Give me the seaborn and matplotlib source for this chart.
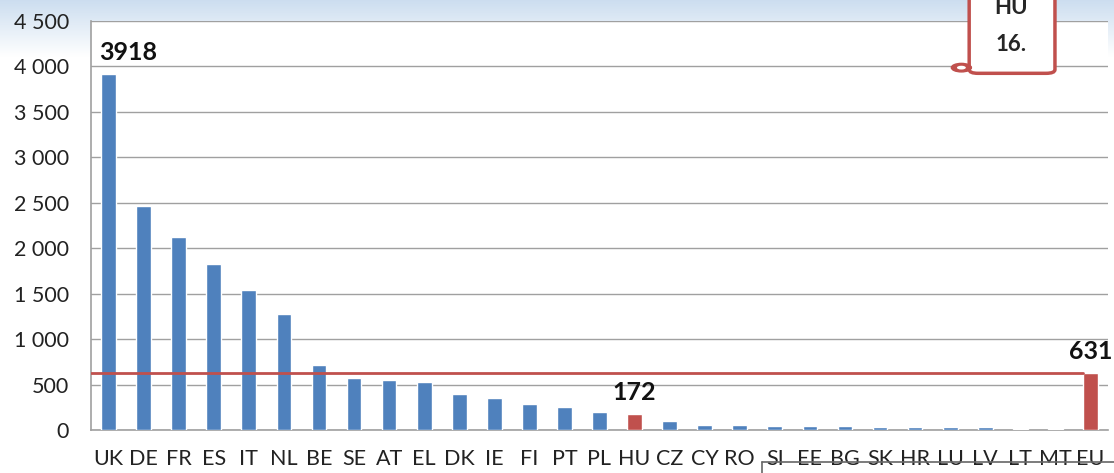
import numpy as np
import pandas as pd
import matplotlib
matplotlib.use("Agg")
import matplotlib.pyplot as plt
import seaborn as sns
from matplotlib.patches import FancyBboxPatch, Circle

countries = ['UK', 'DE', 'FR', 'ES', 'IT', 'NL', 'BE', 'SE', 'AT', 'EL', 'DK', 'IE', 'FI', 'PT',
             'PL', 'HU', 'CZ', 'CY', 'RO', 'SI', 'EE', 'BG', 'SK', 'HR', 'LU', 'LV', 'LT', 'MT', 'EU']
values = [3918, 2462, 2121, 1824, 1538, 1275, 714, 571, 546, 531, 392, 352, 289, 249,
          198, 172, 95, 55, 55, 40, 40, 40, 29, 29, 29, 29, 14, 14, 631]
highlight = ['HU', 'EU']
labelled = {'UK': '3918', 'HU': '172', 'EU': '631'}
eu_avg = 631
yticks = [0, 500, 1000, 1500, 2000, 2500, 3000, 3500, 4000, 4500]
ytick_labels = ['0', '500', '1 000', '1 500', '2 000', '2 500', '3 000', '3 500', '4 000', '4 500']

df = pd.DataFrame({'country': countries, 'value': values})
df['group'] = np.where(df['country'].isin(highlight), 'hl', 'base')

sns.set_style('white')
plt.rcParams['font.family'] = ['Lato', 'DejaVu Sans']

fig = plt.figure(figsize=(11.14, 4.73), dpi=100)

# light blue cloudy band at the top of the slide
bg = fig.add_axes([0, 0, 1, 1], zorder=-10)
grad = np.linspace(0, 1, 200)[:, None]
col_top = np.array([0.80, 0.87, 0.94])
col_bot = np.array([1.0, 1.0, 1.0])
w = np.clip(1 - grad / 0.12, 0, 1)
img = col_bot + (col_top - col_bot) * w[..., None]
img = np.repeat(img, 10, axis=1)
bg.imshow(img, aspect='auto', extent=[0, 1, 0, 1], origin='upper')
bg.axis('off')

ax = fig.add_axes([0.0817, 0.0909, 0.9129, 0.8647])
ax.set_facecolor('white')
sns.barplot(data=df, x='country', y='value', hue='group',
            palette={'base': '#4f81bd', 'hl': '#c0504d'}, dodge=False, saturation=1,
            width=0.42, legend=False, ax=ax, zorder=3)

ax.set_ylim(0, 4500)
ax.set_xlim(-0.5, len(countries) - 0.5)
ax.set_yticks(yticks)
ax.set_yticklabels(ytick_labels)
ax.yaxis.grid(True, color='#a0a0a0', linewidth=1, zorder=0)
ax.set_axisbelow(True)
ax.set_xlabel('')
ax.set_ylabel('')
ax.tick_params(axis='y', labelsize=15.5, colors='#222222', length=0, pad=16)
ax.tick_params(axis='x', labelsize=15.5, colors='#222222', length=0, pad=14)
for s in ['top', 'right']:
    ax.spines[s].set_visible(False)
for s in ['left', 'bottom']:
    ax.spines[s].set_color('#a0a0a0')
    ax.spines[s].set_linewidth(1.2)

# EU average line, up to the EU bar
eu_idx = countries.index('EU')
ax.plot([-0.5, eu_idx - 0.21], [eu_avg, eu_avg], color='#c0504d', linewidth=2, zorder=4)

for c, txt in labelled.items():
    i = countries.index(c)
    v = values[i]
    dx = 0.55 if c == 'UK' else 0
    ax.text(i + dx, v + 110, txt, ha='center', va='bottom', fontsize=18,
            fontweight='bold', color='#111111', zorder=5)

# callout box "HU 16."
fig.patches.append(FancyBboxPatch((0.870, 0.845), 0.077, 0.22, boxstyle='round,pad=0,rounding_size=0.008',
                                  transform=fig.transFigure, facecolor='white', edgecolor='#c0504d',
                                  linewidth=2.5, zorder=20))
fig.patches.append(Circle((0.863, 0.857), 0.009, transform=fig.transFigure, facecolor='#c0504d',
                          edgecolor='#c0504d', zorder=21))
fig.patches.append(Circle((0.863, 0.857), 0.004, transform=fig.transFigure, facecolor='white',
                          edgecolor='none', zorder=22))
fig.text(0.908, 0.985, 'HU', ha='center', va='center', fontsize=16, fontweight='bold', zorder=25)
fig.text(0.908, 0.905, '16.', ha='center', va='center', fontsize=16, fontweight='bold', zorder=25)

# stray line across the lower labels
fig.add_artist(plt.Line2D([0.684, 1.0], [0.023, 0.023], color='#666666', linewidth=1.2,
                          transform=fig.transFigure, zorder=30))
fig.add_artist(plt.Line2D([0.684, 0.684], [0.0, 0.023], color='#666666', linewidth=1.2,
                          transform=fig.transFigure, zorder=30))

fig.savefig('out.png', dpi=100)
